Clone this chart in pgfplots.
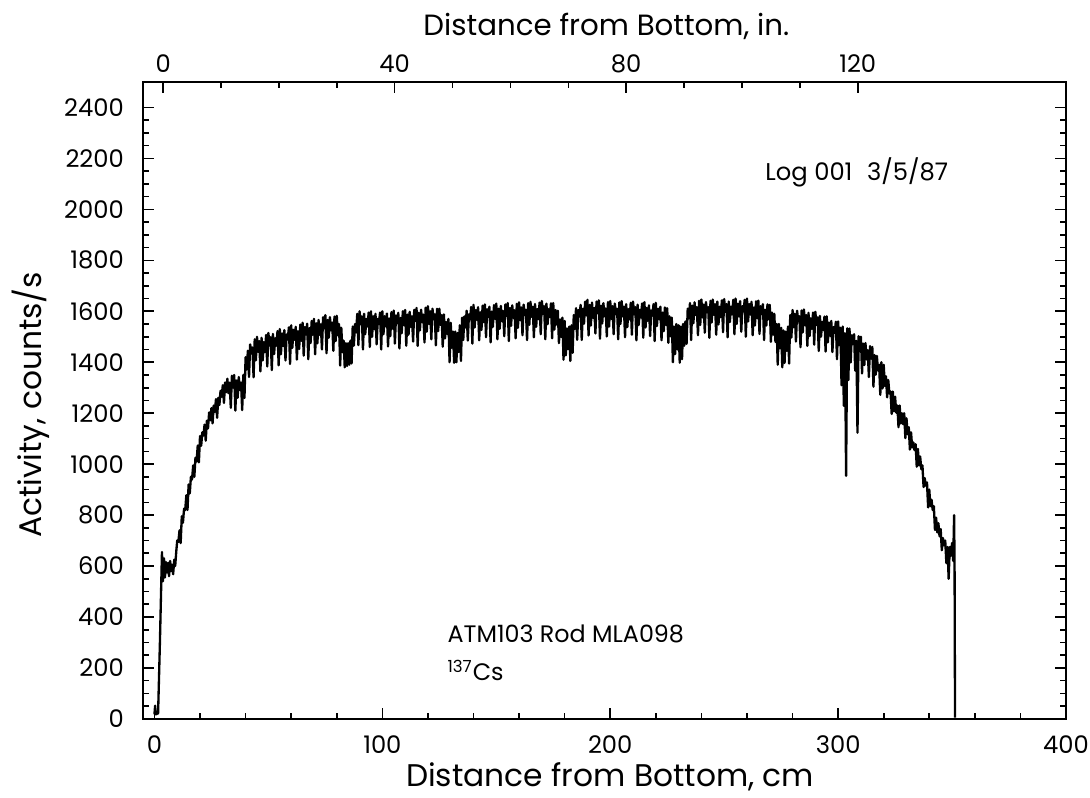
\documentclass[border=0pt]{standalone}
\usepackage{fontspec}
\setmainfont{Poppins}
\usepackage{pgfplots}
\pgfplotsset{compat=1.18}

\begin{document}
\begin{tikzpicture}
\pgfplotsset{
  frame/.style={
    scale only axis, width=16.07cm, height=11.09cm,
    tick align=inside,
    major tick length=0.19cm, minor tick length=0.11cm,
    axis line style={line width=1.2pt},
    every tick/.style={black, line width=0.8pt},
    tick label style={font=\fontsize{12}{14}\selectfont},
    label style={font=\fontsize{15.5}{18}\selectfont},
    /pgf/number format/assume math mode=true,
    /pgf/number format/1000 sep={},
  }
}
% inches along the top
\begin{axis}[frame,
  xmin=-3.465, xmax=155.98, ymin=0, ymax=2500,
  axis x line*=top, axis y line=none,
  xtick={0,40,80,120}, minor x tick num=3,
  xticklabel style={yshift=1pt},
  xlabel={Distance from Bottom, in.},
  xlabel style={at={(rel axis cs:0.502,1.088)}, anchor=center, font=\fontsize{14.5}{17}\selectfont},
]
\end{axis}
% cm, counts/s
\begin{axis}[frame,
  xmin=-5, xmax=400, ymin=0, ymax=2500,
  xtick={0,100,...,400}, minor x tick num=4,
  ytick={0,200,...,2400}, minor y tick num=3,
  xtick pos=bottom, ytick pos=both,
  xticklabel style={yshift=-5pt},
  yticklabel style={xshift=-6pt},
  xlabel={Distance from Bottom, cm},
  ylabel={Activity, counts/s},
  xlabel style={at={(rel axis cs:0.506,-0.091)}, anchor=center},
  ylabel style={at={(rel axis cs:-0.122,0.493)}, anchor=center},
]
\addplot[black, line width=1.15pt, line join=round] coordinates {
(0,18)(0.3,52)(0.6,18)(1.6,22)(2.4,300)(3.3,655)(3.7,540)(4.2,630)(4.6,555)(5.1,615)(5.5,575)(6.0,612)(6.4,560)(6.9,620)(7.3,580)(7.8,605)(8.2,568)(8.7,625)(9.1,600)(9.6,660)
(10,700)(10.5,695)(11,740)(11.5,690)(12,795)(12.5,770)(13,825)(13.5,820)(14,878)(14.5,820)(15,920)(15.5,885)(16,950)(16.5,940)(17,995)(17.5,950)(18,1025)(18.5,1010)(19,1073)(19.5,1007)
(20,1110)(20.5,1072)(21,1125)(21.5,1112)(22,1155)(22.5,1092)(23,1170)(23.5,1140)(24,1203)(24.5,1172)(25,1220)(25.5,1160)(26,1230)(26.5,1205)(27,1255)(27.5,1182)(28,1260)(28.5,1232)(29,1288)(29.5,1265)
(30,1310)(30.5,1240)(31,1320)(31.5,1282)(32,1335)(32.5,1278)(33,1320)(33.5,1221)(34,1347)(34.5,1301)(35,1350)(35.5,1210)(36,1328)(36.5,1260)(37,1342)(37.5,1291)(38,1320)(38.5,1212)(39,1350)(39.5,1260)
(40,1420)(40.5,1372)(41,1445)(41.5,1342)(42,1470)(42.5,1434)(43,1458)(43.5,1341)(44,1490)(44.5,1407)(45,1500)(45.5,1441)(46,1483)(46.5,1364)(47,1496)(47.5,1407)(48,1479)(48.5,1440)(49,1507)(49.5,1383)
(50,1515)(50.5,1466)(51,1498)(51.5,1369)(52,1511)(52.5,1432)(53,1494)(53.5,1465)(54,1522)(54.5,1388)(55,1530)(55.5,1431)(56,1513)(56.5,1464)(57,1526)(57.5,1407)(58,1509)(58.5,1490)(59,1537)(59.5,1393)
(60,1545)(60.5,1456)(61,1527)(61.5,1488)(62,1539)(62.5,1410)(63,1521)(63.5,1452)(64,1548)(64.5,1484)(65,1555)(65.5,1426)(66,1538)(66.5,1509)(67,1551)(67.5,1412)(68,1534)(68.5,1475)(69,1562)(69.5,1508)
(70,1570)(70.5,1431)(71,1553)(71.5,1474)(72,1566)(72.5,1507)(73,1549)(73.5,1450)(74,1577)(74.5,1533)(75,1585)(75.5,1435)(76,1566)(76.5,1496)(77,1577)(77.5,1526)(78,1556)(78.5,1445)(79,1579)(79.5,1483)
(80,1582)(80.5,1506)(81,1550)(81.5,1387)(82,1535)(82.5,1440)(83,1485)(83.5,1380)(84,1475)(84.5,1385)(85,1475)(85.5,1390)(86,1485)(86.5,1395)(87,1540)(87.5,1465)(88,1550)(88.5,1517)(89,1590)(89.5,1467)
(90,1600)(90.5,1550)(91,1580)(91.5,1450)(92,1590)(92.5,1510)(93,1570)(93.5,1540)(94,1595)(94.5,1460)(95,1600)(95.5,1500)(96,1580)(96.5,1530)(97,1590)(97.5,1470)(98,1570)(98.5,1550)(99,1595)(99.5,1450)
(100,1600)(100.5,1510)(101,1581)(101.5,1541)(102,1591)(102.5,1462)(103,1572)(103.5,1502)(104,1597)(104.5,1532)(105,1603)(105.5,1473)(106,1583)(106.5,1554)(107,1594)(107.5,1454)(108,1574)(108.5,1514)(109,1600)(109.5,1545)
(110,1605)(110.5,1465)(111,1587)(111.5,1508)(112,1598)(112.5,1539)(113,1580)(113.5,1481)(114,1606)(114.5,1562)(115,1613)(115.5,1464)(116,1594)(116.5,1525)(117,1606)(117.5,1557)(118,1587)(118.5,1478)(119,1614)(119.5,1520)
(120,1620)(120.5,1550)(121,1600)(121.5,1490)(122,1610)(122.5,1569)(123,1588)(123.5,1466)(124,1610)(124.5,1522)(125,1610)(125.5,1547)(126,1585)(126.5,1461)(127,1588)(127.5,1493)(128,1558)(128.5,1511)(129,1570)(129.5,1400)
(130,1555)(130.5,1457)(131,1520)(131.5,1398)(132,1520)(132.5,1400)(133,1515)(133.5,1440)(134,1545)(134.5,1405)(135,1575)(135.5,1487)(136,1580)(136.5,1536)(137,1602)(137.5,1485)(138,1588)(138.5,1570)(139,1617)(139.5,1473)
(140,1625)(140.5,1536)(141,1605)(141.5,1566)(142,1616)(142.5,1486)(143,1596)(143.5,1527)(144,1622)(144.5,1557)(145,1627)(145.5,1498)(146,1608)(146.5,1578)(147,1618)(147.5,1478)(148,1599)(148.5,1539)(149,1624)(149.5,1570)
(150,1630)(150.5,1490)(151,1610)(151.5,1531)(152,1621)(152.5,1561)(153,1601)(153.5,1502)(154,1627)(154.5,1582)(155,1632)(155.5,1483)(156,1613)(156.5,1543)(157,1623)(157.5,1574)(158,1604)(158.5,1494)(159,1629)(159.5,1535)
(160,1635)(160.5,1565)(161,1615)(161.5,1506)(162,1626)(162.5,1586)(163,1606)(163.5,1487)(164,1632)(164.5,1547)(165,1637)(165.5,1578)(166,1618)(166.5,1498)(167,1628)(167.5,1539)(168,1609)(168.5,1569)(169,1634)(169.5,1510)
(170,1640)(170.5,1590)(171,1620)(171.5,1490)(172,1630)(172.5,1549)(173,1608)(173.5,1577)(174,1631)(174.5,1494)(175,1632)(175.5,1528)(176,1605)(176.5,1548)(177,1602)(177.5,1475)(178,1568)(178.5,1499)(179,1575)(179.5,1410)
(180,1562)(180.5,1427)(181,1532)(181.5,1451)(182,1540)(182.5,1405)(183,1545)(183.5,1437)(184,1585)(184.5,1531)(185,1612)(185.5,1488)(186,1605)(186.5,1580)(187,1625)(187.5,1487)(188,1610)(188.5,1551)(189,1638)(189.5,1584)
(190,1645)(190.5,1505)(191,1625)(191.5,1544)(192,1634)(192.5,1574)(193,1613)(193.5,1513)(194,1638)(194.5,1593)(195,1643)(195.5,1492)(196,1622)(196.5,1552)(197,1632)(197.5,1581)(198,1611)(198.5,1501)(199,1636)(199.5,1540)
(200,1640)(200.5,1570)(201,1620)(201.5,1510)(202,1630)(202.5,1590)(203,1610)(203.5,1490)(204,1635)(204.5,1550)(205,1640)(205.5,1580)(206,1618)(206.5,1498)(207,1628)(207.5,1538)(208,1608)(208.5,1568)(209,1633)(209.5,1508)
(210,1638)(210.5,1588)(211,1616)(211.5,1486)(212,1626)(212.5,1546)(213,1606)(213.5,1576)(214,1631)(214.5,1496)(215,1636)(215.5,1536)(216,1613)(216.5,1563)(217,1623)(217.5,1503)(218,1603)(218.5,1583)(219,1628)(219.5,1483)
(220,1633)(220.5,1542)(221,1610)(221.5,1569)(222,1618)(222.5,1486)(223,1595)(223.5,1522)(224,1615)(224.5,1546)(225,1612)(225.5,1476)(226,1580)(226.5,1502)(227,1575)(227.5,1400)(228,1540)(228.5,1432)(229,1550)(229.5,1450)
(230,1545)(230.5,1398)(231,1540)(231.5,1412)(232,1550)(232.5,1465)(233,1560)(233.5,1472)(234,1610)(234.5,1573)(235,1632)(235.5,1487)(236,1622)(236.5,1553)(237,1635)(237.5,1585)(238,1616)(238.5,1506)(239,1641)(239.5,1546)
(240,1646)(240.5,1576)(241,1626)(241.5,1516)(242,1636)(242.5,1596)(243,1616)(243.5,1496)(244,1641)(244.5,1556)(245,1646)(245.5,1586)(246,1628)(246.5,1508)(247,1638)(247.5,1548)(248,1618)(248.5,1578)(249,1643)(249.5,1518)
(250,1648)(250.5,1598)(251,1628)(251.5,1498)(252,1638)(252.5,1558)(253,1618)(253.5,1588)(254,1645)(254.5,1510)(255,1650)(255.5,1550)(256,1630)(256.5,1580)(257,1640)(257.5,1520)(258,1620)(258.5,1600)(259,1645)(259.5,1500)
(260,1650)(260.5,1560)(261,1628)(261.5,1587)(262,1637)(262.5,1506)(263,1615)(263.5,1544)(264,1639)(264.5,1573)(265,1642)(265.5,1511)(266,1620)(266.5,1589)(267,1628)(267.5,1487)(268,1606)(268.5,1544)(269,1627)(269.5,1568)
(270,1625)(270.5,1480)(271,1595)(271.5,1508)(272,1590)(272.5,1480)(273,1550)(273.5,1390)(274,1550)(274.5,1455)(275,1535)(275.5,1380)(276,1525)(276.5,1397)(277,1520)(277.5,1445)(278,1540)(278.5,1395)(279,1585)(279.5,1497)
(280,1605)(280.5,1537)(281,1590)(281.5,1481)(282,1602)(282.5,1561)(283,1580)(283.5,1459)(284,1603)(284.5,1517)(285,1607)(285.5,1546)(286,1585)(286.5,1464)(287,1594)(287.5,1503)(288,1572)(288.5,1531)(289,1595)(289.5,1469)
(290,1598)(290.5,1547)(291,1576)(291.5,1444)(292,1582)(292.5,1500)(293,1558)(293.5,1526)(294,1579)(294.5,1442)(295,1580)(295.5,1478)(296,1556)(296.5,1504)(297,1562)(297.5,1440)(298,1538)(298.5,1516)(299,1559)(299.5,1412)
(300,1560)(300.5,1468)(301,1535)(301.5,1310)(302,1540)(302.5,1229)(303,1514)(303.5,954)(304,1533)(304.5,1330)(305,1532)(305.5,1399)(306,1506)(306.5,1473)(307,1510)(307.5,1367)(308,1484)(308.5,1123)(309,1502)(309.5,1444)
(310,1500)(310.5,1356)(311,1473)(311.5,1389)(312,1475)(312.5,1411)(313,1447)(313.5,1342)(314,1463)(314.5,1414)(315,1460)(315.5,1304)(316,1428)(316.5,1351)(317,1425)(317.5,1368)(318,1390)(318.5,1272)(319,1400)(319.5,1297)
(320,1390)(320.5,1307)(321,1345)(321.5,1262)(322,1330)(322.5,1277)(323,1285)(323.5,1197)(324,1285)(324.5,1207)(325,1265)(325.5,1202)(326,1230)(326.5,1145)(327,1230)(327.5,1160)(328,1200)(328.5,1157)(329,1200)(329.5,1102)
(330,1180)(330.5,1117)(331,1145)(331.5,1057)(332,1125)(332.5,1065)(333,1085)(333.5,1055)(334,1078)(334.5,990)(335,1060)(335.5,995)(336,1030)(336.5,980)(337,995)(337.5,910)(338,945)(338.5,915)(339,928)(339.5,830)
(340,900)(340.5,835)(341,860)(341.5,820)(342,835)(342.5,742)(343,790)(343.5,732)(344,768)(344.5,717)(345,745)(345.5,662)(346,710)(346.5,682)(347,700)(347.5,612)(348,675)(348.5,550)(349,675)(349.5,640)
(350,690)(350.5,620)(350.9,800)(351.1,600)(351.3,5)
};
\node[anchor=base west, font=\fontsize{12}{14}\selectfont] at (axis cs:265,2113) {Log 001\hspace{0.6em}3/5/87};
\node[anchor=base west, font=\fontsize{11.8}{14}\selectfont] at (axis cs:125.5,298) {ATM103 Rod MLA098};
\node[anchor=base west, font=\fontsize{11.8}{14}\selectfont] at (axis cs:125.5,149) {\textsuperscript{137}Cs};
\coordinate (bbl) at (rel axis cs:-0.155,-0.124);
\coordinate (btr) at (rel axis cs:1.026,1.1287);
\end{axis}
\pgfresetboundingbox
\path (bbl) rectangle (btr);
\end{tikzpicture}
\end{document}
